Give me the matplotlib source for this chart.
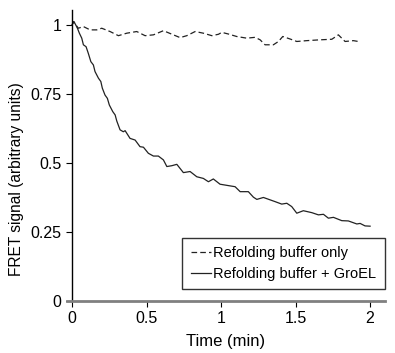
import numpy as np
import matplotlib
matplotlib.use("Agg")
import matplotlib.pyplot as plt

plt.rcParams['font.family'] = ['Liberation Sans', 'DejaVu Sans']

# Refolding buffer only (dashed)
t_buf = [0.0, 0.009, 0.042, 0.076, 0.121, 0.166, 0.199, 0.255, 0.311, 0.367, 0.434,
         0.490, 0.546, 0.613, 0.680, 0.725, 0.770, 0.826, 0.881, 0.938, 0.982,
         1.005, 1.049, 1.105, 1.172, 1.228, 1.262, 1.295, 1.351, 1.385, 1.414,
         1.463, 1.508, 1.575, 1.664, 1.743, 1.787, 1.832, 1.888, 1.921]
y_buf = [1.0, 1.012, 0.988, 0.994, 0.982, 0.982, 0.988, 0.976, 0.961, 0.970, 0.976,
         0.961, 0.964, 0.979, 0.964, 0.954, 0.961, 0.976, 0.970, 0.961, 0.966,
         0.973, 0.967, 0.958, 0.952, 0.955, 0.946, 0.928, 0.928, 0.940, 0.958,
         0.949, 0.940, 0.943, 0.946, 0.948, 0.964, 0.940, 0.943, 0.940]

# Refolding buffer + GroEL (solid)
t_gro = [0.0, 0.013, 0.036, 0.049, 0.065, 0.076, 0.094, 0.109, 0.126, 0.143, 0.154,
         0.177, 0.193, 0.203, 0.221, 0.237, 0.250, 0.273, 0.289, 0.300, 0.322,
         0.344, 0.356, 0.389, 0.423, 0.456, 0.479, 0.512, 0.546, 0.579, 0.613,
         0.636, 0.669, 0.703, 0.747, 0.792, 0.837, 0.881, 0.915, 0.948, 0.993,
         1.060, 1.094, 1.128, 1.183, 1.217, 1.240, 1.284, 1.362, 1.407, 1.441,
         1.474, 1.508, 1.552, 1.609, 1.653, 1.687, 1.720, 1.754, 1.810, 1.854,
         1.911, 1.933, 1.966, 2.000]
y_gro = [1.0, 1.012, 0.988, 0.970, 0.952, 0.928, 0.921, 0.897, 0.867, 0.855, 0.831,
         0.807, 0.795, 0.771, 0.746, 0.734, 0.710, 0.686, 0.674, 0.652, 0.620,
         0.613, 0.617, 0.589, 0.583, 0.559, 0.557, 0.535, 0.525, 0.525, 0.511,
         0.487, 0.490, 0.495, 0.465, 0.469, 0.450, 0.444, 0.432, 0.442, 0.423,
         0.417, 0.414, 0.396, 0.396, 0.376, 0.368, 0.375, 0.360, 0.351, 0.354,
         0.342, 0.318, 0.327, 0.320, 0.312, 0.314, 0.300, 0.303, 0.291, 0.290,
         0.279, 0.281, 0.272, 0.271]

xticks = [0, 0.5, 1, 1.5, 2]
xticklabels = ['0', '0.5', '1', '1.5', '2']
yticks = [0, 0.25, 0.5, 0.75, 1]
yticklabels = ['0', '0.25', '0.5', '0.75', '1']

W, H = 395, 353
fig = plt.figure(figsize=(W / 100, H / 100), dpi=100)
ax = fig.add_axes([67 / W, 1 - 301 / H, (385 - 67) / W, (301 - 10) / H])

ax.plot(t_buf, y_buf, color='#222222', lw=0.9, ls=(0, (4.5, 2.5)), label='Refolding buffer only')
ax.plot(t_gro, y_gro, color='#222222', lw=0.9, ls='-', label='Refolding buffer + GroEL')

ax.set_xlim(-0.034, 2.1)
ax.set_ylim(0, 1.054)
ax.spines['top'].set_visible(False)
ax.spines['right'].set_visible(False)
ax.spines['left'].set_position(('data', 0))
ax.spines['left'].set_color('black')
ax.spines['left'].set_linewidth(1.0)
ax.spines['bottom'].set_color('#808080')
ax.spines['bottom'].set_linewidth(2.0)

ax.set_xticks(xticks)
ax.set_xticklabels(xticklabels)
ax.set_yticks(yticks)
ax.set_yticklabels(yticklabels)
ax.tick_params(axis='both', direction='out', length=4, width=0.8, labelsize=11.5, color='black')
ax.tick_params(axis='x', pad=3)

ax.set_xlabel('Time (min)', fontsize=12, labelpad=6)
ax.set_ylabel('FRET signal (arbitrary units)', fontsize=11.2)
ax.yaxis.set_label_coords(-0.135, 0.42)

leg = ax.legend(loc='lower right', bbox_to_anchor=(1.0, 0.04), fontsize=10.5, frameon=True,
                fancybox=False, edgecolor='black', handlelength=1.4, handletextpad=0.15,
                borderpad=0.6, labelspacing=0.42, borderaxespad=0.0)
leg.get_frame().set_linewidth(1.0)

fig.savefig('out.png', dpi=100)
